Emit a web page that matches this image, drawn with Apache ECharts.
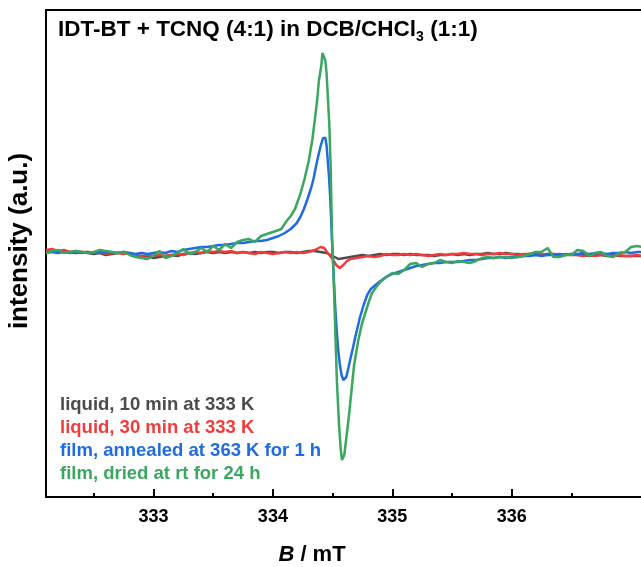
<!DOCTYPE html>
<html><head><meta charset="utf-8">
<script src="https://cdn.jsdelivr.net/npm/echarts@6/dist/echarts.min.js"></script>
<style>html,body{margin:0;padding:0;background:#fff}#c{width:641px;height:567px}</style>
</head><body><div id="c"></div>
<script>
const FONT = '"Liberation Sans", Arial, Helvetica, sans-serif';

const seriesNames = ['liquid, 10 min at 333 K', 'liquid, 30 min at 333 K', 'film, annealed at 363 K for 1 h', 'film, dried at rt for 24 h'];
const seriesColors = ['#4b4b4b', '#f23b3b', '#1f6ce0', '#3aa65f'];
const majorTicks = [333, 334, 335, 336];
const minorTicks = [332.5, 333.5, 334.5, 335.5, 336.5];

// magnetic field B / mT, regular sampling grid
const fieldGrid = [332.10,332.15,332.20,332.25,332.30,332.35,332.40,332.45,332.50,332.55,
  332.60,332.65,332.70,332.75,332.80,332.85,332.90,332.95,333.00,333.05,
  333.10,333.15,333.20,333.25,333.30,333.35,333.40,333.45,333.50,333.55,
  333.60,333.65,333.70,333.75,333.80,333.85,333.90,333.95,334.00,334.05,
  334.10,334.15,334.20,334.25,334.30,334.35,334.40,334.45,334.50,334.55,
  334.60,334.65,334.70,334.75,334.80,334.85,334.90,334.95,335.00,335.05,
  335.10,335.15,335.20,335.25,335.30,335.35,335.40,335.45,335.50,335.55,
  335.60,335.65,335.70,335.75,335.80,335.85,335.90,335.95,336.00,336.05,
  336.10,336.15,336.20,336.25,336.30,336.35,336.40,336.45,336.50,336.55,
  336.60,336.65,336.70,336.75,336.80,336.85,336.90,336.95,337.00,337.05,
  337.10];

// liquid, 10 min (on fieldGrid)
const grayIntensity = [0.00,0.01,-0.01,0.00,-0.01,-0.02,-0.01,-0.02,-0.03,-0.02,
  -0.04,-0.03,-0.02,-0.01,-0.03,-0.05,-0.06,-0.05,-0.07,-0.06,
  -0.05,-0.04,-0.05,-0.03,-0.02,-0.03,-0.02,-0.01,-0.02,-0.01,
  -0.02,-0.01,-0.02,-0.01,-0.02,-0.01,-0.02,-0.01,-0.01,-0.02,
  -0.01,-0.01,-0.02,-0.01,0.00,0.00,-0.01,-0.02,-0.05,-0.08,
  -0.07,-0.06,-0.05,-0.04,-0.05,-0.04,-0.03,-0.04,-0.03,-0.03,
  -0.04,-0.03,-0.04,-0.04,-0.04,-0.05,-0.04,-0.04,-0.03,-0.04,
  -0.03,-0.04,-0.03,-0.03,-0.02,-0.03,-0.03,-0.02,-0.03,-0.03,
  -0.04,-0.03,-0.03,-0.04,-0.03,-0.03,-0.04,-0.04,-0.03,-0.04,
  -0.04,-0.05,-0.04,-0.04,-0.05,-0.04,-0.05,-0.05,-0.05,-0.05,
  -0.05];

// liquid, 30 min
const redCenterField = [334.43,334.46,334.50,334.53,334.56,334.59,334.62,334.65,334.70];
const redIntensity = [0.01,0.02,0.00,0.01,-0.01,0.00,-0.01,-0.01,-0.02,-0.01,
  -0.03,-0.02,-0.02,-0.03,-0.02,-0.04,-0.05,-0.04,-0.05,-0.04,
  -0.05,-0.04,-0.03,-0.04,-0.02,-0.01,-0.02,0.00,-0.01,0.00,
  -0.01,0.00,-0.02,-0.01,-0.02,-0.03,-0.01,-0.02,-0.03,-0.02,
  -0.01,-0.02,-0.01,-0.02,-0.01,0.01,0.04,
  0.03,-0.02,-0.08,-0.14,-0.17,-0.14,-0.10,-0.08,-0.07,
  -0.06,-0.05,-0.06,-0.05,-0.03,
  -0.04,-0.04,-0.03,-0.04,-0.03,-0.04,-0.05,-0.04,-0.03,-0.04,
  -0.03,-0.03,-0.02,-0.03,-0.03,-0.04,-0.03,-0.03,-0.02,-0.03,
  -0.03,-0.04,-0.03,-0.03,-0.04,-0.03,-0.04,-0.03,-0.04,-0.03,
  -0.04,-0.04,-0.05,-0.04,-0.05,-0.04,-0.04,-0.05,-0.04,-0.05,
  -0.05,-0.04,-0.05];

// film, annealed
const blueCenterField = [334.00,334.05,334.10,334.15,334.20,334.23,334.26,334.29,334.32,334.34,
  334.36,334.38,334.40,334.42,334.43,334.44,334.45,334.46,334.47,334.48,
  334.494,334.508,334.522,334.535,334.547,334.56,334.575,334.59,334.60,334.615,
  334.63,334.647,334.67,334.69,334.71,334.73,334.76,334.79,334.82,334.86];
const blueIntensity = [-0.02,-0.01,-0.02,-0.01,-0.02,-0.01,-0.02,-0.01,-0.02,-0.01,
  -0.02,-0.01,-0.02,-0.01,-0.02,-0.03,-0.02,-0.03,-0.02,-0.01,
  -0.02,0.00,-0.01,0.01,0.02,0.03,0.04,0.04,0.05,0.06,
  0.06,0.07,0.08,0.08,0.09,0.10,0.10,0.11,
  0.13,0.15,0.18,0.22,0.28,0.34,0.42,0.52,0.63,0.72,
  0.84,0.95,1.05,1.13,1.15,1.13,1.05,0.90,0.74,0.54,
  0.14,-0.22,-0.56,-0.80,-0.99,-1.13,-1.24,-1.29,-1.30,-1.26,
  -1.18,-1.09,-0.97,-0.86,-0.76,-0.66,-0.54,-0.44,-0.38,-0.34,
  -0.30,-0.26,-0.23,-0.21,-0.19,-0.17,-0.15,-0.14,-0.13,-0.12,
  -0.12,-0.11,-0.11,-0.11,-0.10,-0.09,-0.09,-0.08,-0.07,-0.07,
  -0.06,-0.07,-0.06,-0.06,-0.05,-0.05,-0.04,-0.05,-0.04,-0.04,
  -0.03,-0.04,-0.03,-0.03,-0.02,-0.03,-0.02,-0.02,-0.03,-0.02,
  -0.02,-0.01,-0.02,-0.01,-0.01];

// film, dried
const greenCenterField = [334.07,334.115,334.15,334.185,334.23,334.265,334.30,334.33,334.35,334.37,
  334.385,334.405,334.415,334.427,334.44,334.45,334.46,334.473,334.485,334.496,
  334.507,334.52,334.536,334.554,334.568,334.578,334.588,334.598,334.612,334.635,
  334.658,334.68,334.716,334.745,334.774,334.803,334.83,334.866,334.90,334.947];
const greenIntensity = [-0.02,0.00,0.01,-0.02,-0.01,0.00,-0.01,-0.02,-0.01,0.01,
  0.00,-0.01,-0.02,-0.01,-0.04,-0.06,-0.07,-0.08,-0.05,0.00,
  -0.07,-0.05,-0.02,0.02,-0.03,-0.01,0.03,-0.01,0.05,0.01,
  0.07,0.03,0.09,0.11,0.12,0.09,0.15,0.17,0.19,0.21,
  0.22,0.30,0.35,0.42,0.57,0.72,0.90,1.11,1.30,1.50,
  1.70,1.85,1.98,1.96,1.90,1.77,1.55,1.25,0.80,0.10,
  -0.20,-0.70,-1.30,-1.74,-1.98,-2.09,-2.11,-2.04,-1.90,-1.67,
  -1.40,-1.14,-0.89,-0.73,-0.62,-0.51,-0.42,-0.36,-0.31,-0.26,
  -0.22,-0.23,-0.19,-0.13,-0.12,-0.16,-0.13,-0.12,-0.09,-0.11,
  -0.12,-0.10,-0.11,-0.12,-0.10,-0.07,-0.06,-0.07,-0.06,-0.06,
  -0.07,-0.06,-0.05,-0.03,-0.01,-0.01,0.03,-0.06,-0.06,-0.04,
  -0.04,0.01,0.00,-0.05,-0.02,-0.01,-0.05,-0.06,-0.02,-0.01,
  0.04,0.05,0.04];

const grayField = fieldGrid;
const redField = fieldGrid.slice(0, 47).concat(redCenterField, fieldGrid.slice(53));
const blueField = fieldGrid.slice(0, 38).concat(blueCenterField, fieldGrid.slice(56));
const greenField = fieldGrid.slice(0, 40).concat(greenCenterField, fieldGrid.slice(58));

const pair = (f, v) => f.map((b, i) => [b, v[i]]);
const seriesData = [pair(grayField, grayIntensity), pair(redField, redIntensity), pair(blueField, blueIntensity), pair(greenField, greenIntensity)];

const chart = echarts.init(document.getElementById('c'), null, {renderer: 'canvas', width: 641, height: 567});
const option = {
  animation: false,
  backgroundColor: '#ffffff',
  title: {
    text: 'IDT-BT + TCNQ (4:1) in DCB/CHCl{sub|3} (1:1)',
    left: 58, top: 16, padding: 0,
    textStyle: {
      fontSize: 22.5, fontWeight: 'bold', fontFamily: FONT, color: '#000', lineHeight: 28,
      rich: { sub: { fontSize: 14, fontWeight: 'bold', fontFamily: FONT, color: '#000', verticalAlign: 'bottom', lineHeight: 16 } }
    }
  },
  legend: {
    orient: 'vertical', left: 54, top: 395, padding: 0,
    itemWidth: 0, itemHeight: 0, itemGap: 3, selectedMode: false,
    textStyle: { fontSize: 18.5, fontWeight: 'bold', fontFamily: FONT, lineHeight: 20 },
    data: seriesNames.map((n, i) => ({ name: n, textStyle: { color: seriesColors[i] } }))
  },
  grid: { left: 46, top: 10, width: 609, height: 487, outerBoundsMode: 'none', containLabel: false,
    show: true, borderColor: '#000', borderWidth: 2 },
  xAxis: [
    {
      type: 'value', min: 332.1, max: 337.2, position: 'bottom',
      axisLine: { show: true, onZero: false, lineStyle: { color: '#000', width: 2 } },
      axisTick: { show: true, inside: true, length: 8, customValues: majorTicks, lineStyle: { color: '#000', width: 2 } },
      axisLabel: { show: true, customValues: majorTicks, fontSize: 18, fontWeight: 'bold', fontFamily: FONT, color: '#000', margin: 11 },
      splitLine: { show: false }
    },
    {
      type: 'value', min: 332.1, max: 337.2, position: 'bottom',
      axisLine: { show: false, onZero: false },
      axisTick: { show: true, inside: true, length: 4, customValues: minorTicks, lineStyle: { color: '#000', width: 2 } },
      axisLabel: { show: false },
      splitLine: { show: false }
    }
  ],
  yAxis: {
    type: 'value', min: -2.46, max: 2.41,
    axisLine: { show: false, onZero: false }, axisTick: { show: false }, axisLabel: { show: false }, splitLine: { show: false }
  },
  graphic: [
    {
      type: 'text', x: 20, y: 241, rotation: Math.PI / 2,
      style: { text: 'intensity (a.u.)', fontSize: 26, fontWeight: 'bold', fontFamily: FONT, fill: '#000', align: 'center', verticalAlign: 'middle' }
    },
    {
      type: 'text', x: 312, y: 555,
      style: {
        text: '{i|B} / mT', fontSize: 22, fontWeight: 'bold', fontFamily: FONT, fill: '#000', align: 'center', verticalAlign: 'middle',
        rich: { i: { fontSize: 22, fontWeight: 'bold', fontStyle: 'italic', fontFamily: FONT, fill: '#000' } }
      }
    }
  ],
  series: seriesNames.map((n, i) => ({
    name: n, type: 'line', xAxisIndex: 0, yAxisIndex: 0,
    data: seriesData[i], showSymbol: false, symbol: 'none', clip: true,
    lineStyle: { color: seriesColors[i], width: 2.5 },
    itemStyle: { color: seriesColors[i] }
  }))
};
chart.setOption(option);
</script></body></html>
